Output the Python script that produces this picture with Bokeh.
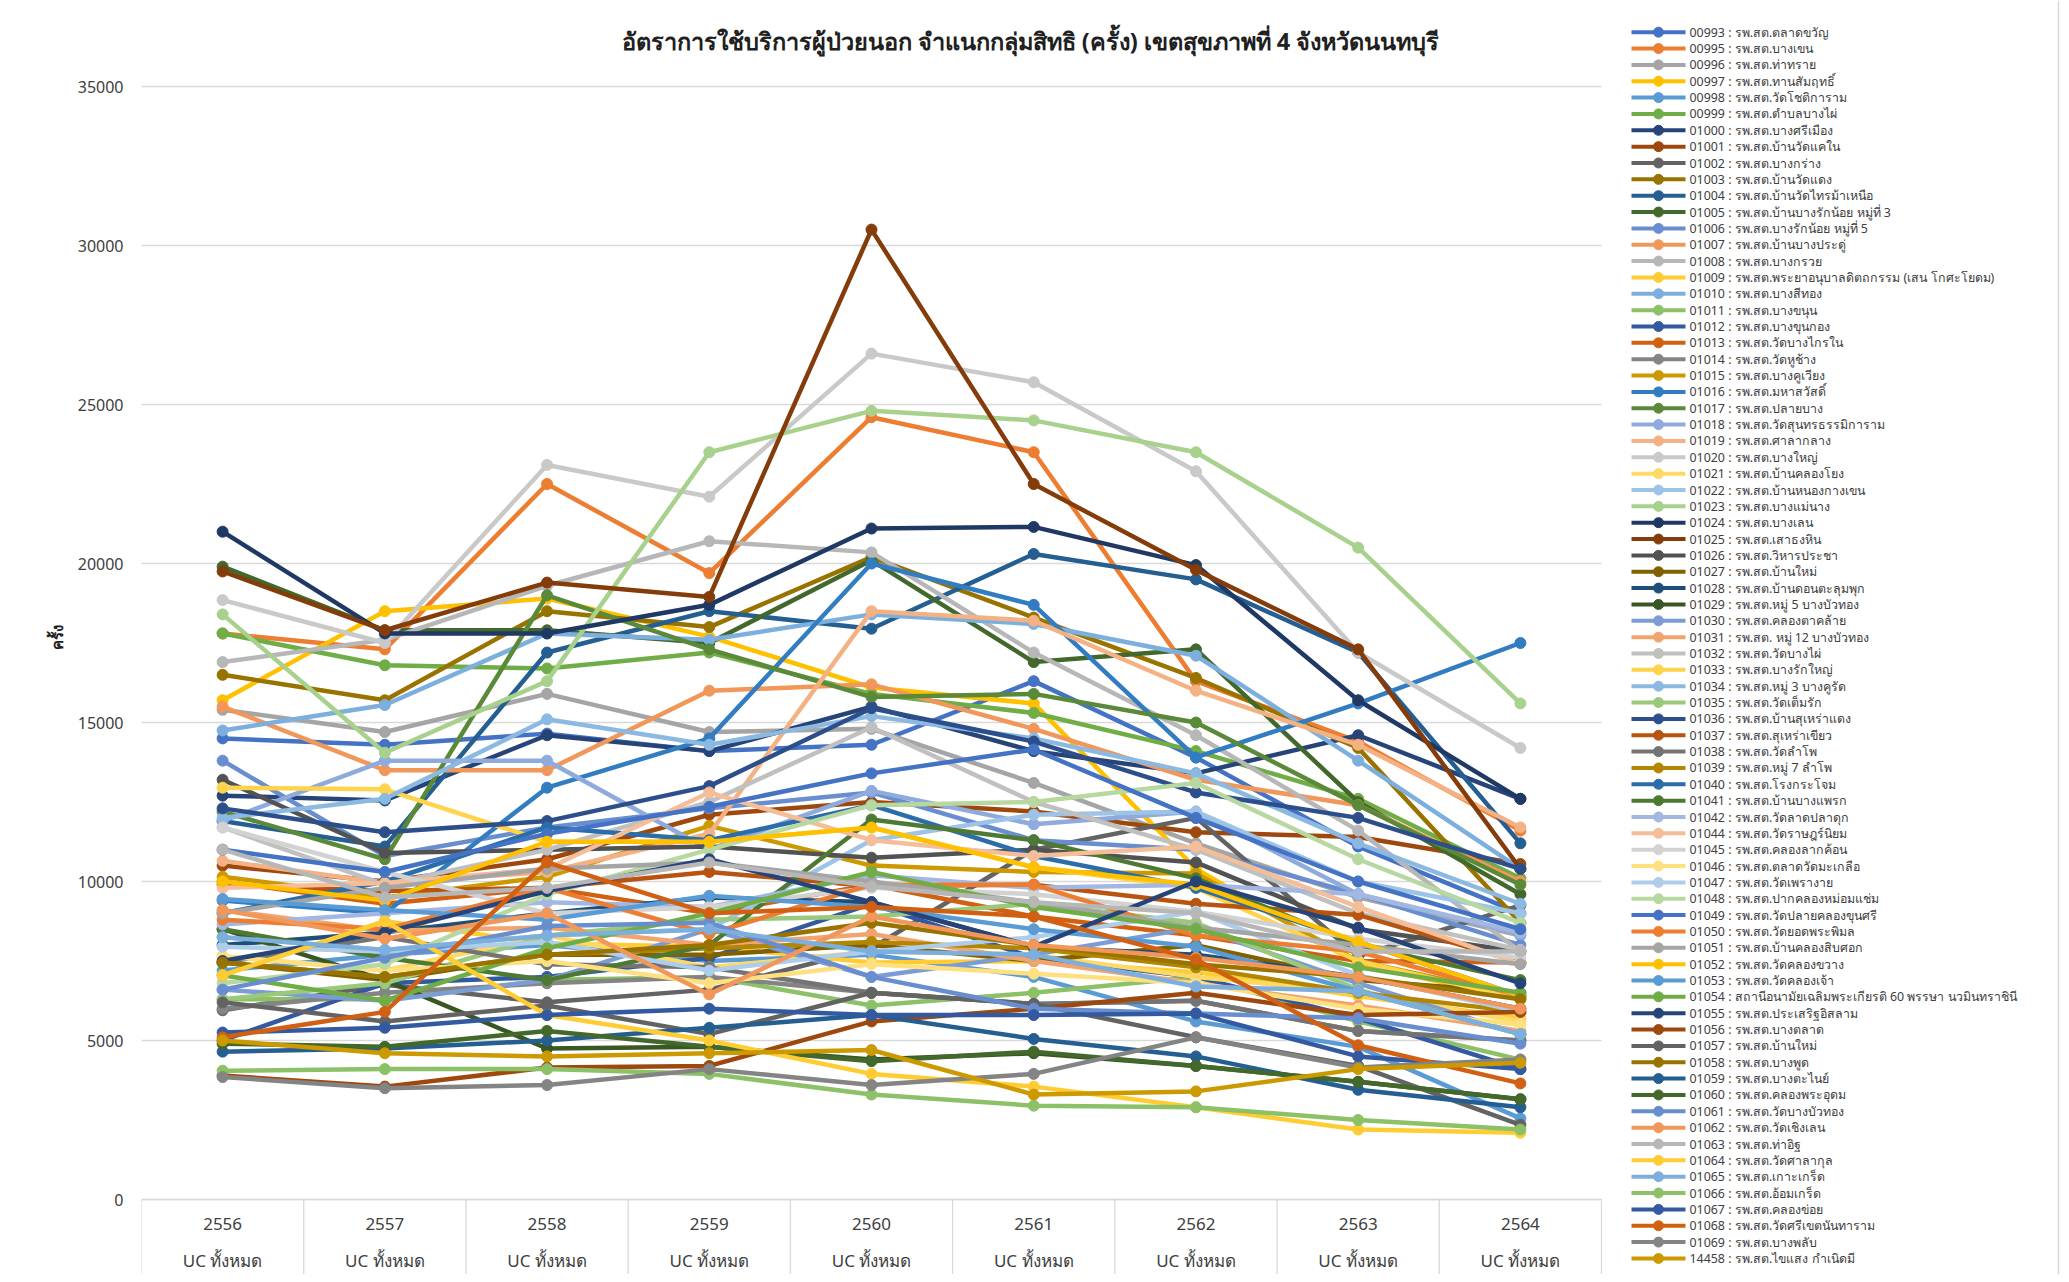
import colorsys
from bokeh.plotting import figure
from bokeh.models import Range1d, FixedTicker, NumeralTickFormatter, ColumnDataSource
from bokeh.core.properties import value
from bokeh.embed import file_html
from bokeh.resources import INLINE

# ---------------- data ----------------
years = ["2556", "2557", "2558", "2559", "2560", "2561", "2562", "2563", "2564"]
group_label = "UC ทั้งหมด"
title_text = "อัตราการใช้บริการผู้ป่วยนอก จำแนกกลุ่มสิทธิ (ครั้ง) เขตสุขภาพที่ 4 จังหวัดนนทบุรี"
y_label = "ครั้ง"
y_ticks = [0, 5000, 10000, 15000, 20000, 25000, 30000, 35000]

codes = ["00993", "00995", "00996", "00997", "00998", "00999", "01000", "01001", "01002", "01003",
         "01004", "01005", "01006", "01007", "01008", "01009", "01010", "01011", "01012", "01013",
         "01014", "01015", "01016", "01017", "01018", "01019", "01020", "01021", "01022", "01023",
         "01024", "01025", "01026", "01027", "01028", "01029", "01030", "01031", "01032", "01033",
         "01034", "01035", "01036", "01037", "01038", "01039", "01040", "01041", "01042", "01044",
         "01045", "01046", "01047", "01048", "01049", "01050", "01051", "01052", "01053", "01054",
         "01055", "01056", "01057", "01058", "01059", "01060", "01061", "01062", "01063", "01064",
         "01065", "01066", "01067", "01068", "01069", "14458"]

names = ["รพ.สต.ตลาดขวัญ", "รพ.สต.บางเขน", "รพ.สต.ท่าทราย", "รพ.สต.ทานสัมฤทธิ์", "รพ.สต.วัดโชติการาม",
         "รพ.สต.ตำบลบางไผ่", "รพ.สต.บางศรีเมือง", "รพ.สต.บ้านวัดแคใน", "รพ.สต.บางกร่าง", "รพ.สต.บ้านวัดแดง",
         "รพ.สต.บ้านวัดไทรม้าเหนือ", "รพ.สต.บ้านบางรักน้อย หมู่ที่ 3", "รพ.สต.บางรักน้อย หมู่ที่ 5",
         "รพ.สต.บ้านบางประดู่", "รพ.สต.บางกรวย", "รพ.สต.พระยาอนุบาลดิตถกรรม (เสน โกศะโยดม)",
         "รพ.สต.บางสีทอง", "รพ.สต.บางขนุน", "รพ.สต.บางขุนกอง", "รพ.สต.วัดบางไกรใน", "รพ.สต.วัดหูช้าง",
         "รพ.สต.บางคูเวียง", "รพ.สต.มหาสวัสดิ์", "รพ.สต.ปลายบาง", "รพ.สต.วัดสุนทรธรรมิการาม",
         "รพ.สต.ศาลากลาง", "รพ.สต.บางใหญ่", "รพ.สต.บ้านคลองโยง", "รพ.สต.บ้านหนองกางเขน", "รพ.สต.บางแม่นาง",
         "รพ.สต.บางเลน", "รพ.สต.เสาธงหิน", "รพ.สต.วิหารประชา", "รพ.สต.บ้านใหม่", "รพ.สต.บ้านดอนตะลุมพุก",
         "รพ.สต.หมู่ 5 บางบัวทอง", "รพ.สต.คลองตาคล้าย", "รพ.สต. หมู่ 12 บางบัวทอง", "รพ.สต.วัดบางไผ่",
         "รพ.สต.บางรักใหญ่", "รพ.สต.หมู่ 3 บางคูรัด", "รพ.สต.วัดเต็มรัก", "รพ.สต.บ้านสุเหร่าแดง",
         "รพ.สต.สุเหร่าเขียว", "รพ.สต.วัดลำโพ", "รพ.สต.หมู่ 7 ลำโพ", "รพ.สต.โรงกระโจม", "รพ.สต.บ้านบางแพรก",
         "รพ.สต.วัดลาดปลาดุก", "รพ.สต.วัดราษฎร์นิยม", "รพ.สต.คลองลากค้อน", "รพ.สต.ตลาดวัดมะเกลือ",
         "รพ.สต.วัดเพรางาย", "รพ.สต.ปากคลองหม่อมแช่ม", "รพ.สต.วัดปลายคลองขุนศรี", "รพ.สต.วัดยอดพระพิมล",
         "รพ.สต.บ้านคลองสิบศอก", "รพ.สต.วัดคลองขวาง", "รพ.สต.วัดคลองเจ้า",
         "สถานีอนามัยเฉลิมพระเกียรติ 60 พรรษา นวมินทราชินี", "รพ.สต.ประเสริฐอิสลาม", "รพ.สต.บางตลาด",
         "รพ.สต.บ้านใหม่", "รพ.สต.บางพูด", "รพ.สต.บางตะไนย์", "รพ.สต.คลองพระอุดม", "รพ.สต.วัดบางบัวทอง",
         "รพ.สต.วัดเชิงเลน", "รพ.สต.ท่าอิฐ", "รพ.สต.วัดศาลากุล", "รพ.สต.เกาะเกร็ด", "รพ.สต.อ้อมเกร็ด",
         "รพ.สต.คลองข่อย", "รพ.สต.วัดศรีเขตนันทาราม", "รพ.สต.บางพลับ", "รพ.สต.ไขแสง กำเนิดมี"]

v00993 = [14500, 14300, 14650, 14100, 14300, 16300, 13900, 11100, 9000]
v00995 = [17800, 17300, 22500, 19700, 24600, 23500, 16300, 14400, 11600]
v00996 = [15400, 14700, 15900, 14700, 14800, 13100, 11200, 9500, 8300]
v00997 = [15700, 18500, 18900, 17700, 16100, 15600, 10400, 7400, 6300]
v00998 = [7200, 7700, 8000, 7500, 7700, 7000, 5600, 4800, 2550]
v00999 = [17800, 16800, 16700, 17200, 15900, 15300, 14100, 12600, 10100]
v01000 = [12700, 12550, 14600, 14100, 15500, 14100, 13400, 14600, 12600]
v01001 = [10500, 10000, 10700, 12100, 12500, 12200, 11550, 11400, 10550]
v01002 = [5950, 6750, 6200, 6600, 7900, 11000, 12000, 7650, 9250]
v01003 = [16500, 15700, 18500, 18000, 20200, 18300, 16400, 14200, 8700]
v01004 = [11900, 11100, 17200, 18500, 17950, 20300, 19500, 17200, 11200]
v01005 = [19900, 17900, 17900, 17500, 20100, 16900, 17300, 12500, 9600]
v01006 = [13800, 10800, 11700, 12300, 12800, 11300, 11000, 9600, 8000]
v01007 = [15500, 13500, 13500, 16000, 16200, 14800, 13200, 12400, 10000]
v01008 = [16900, 17600, 19300, 20700, 20350, 17200, 14600, 11600, 7800]
v01009 = [7050, 8750, 8050, 7950, 7450, 7500, 7150, 6400, 5700]
v01010 = [14750, 15550, 17800, 17600, 18400, 18100, 17100, 13800, 10400]
v01011 = [6300, 6300, 6900, 7000, 6100, 6500, 7000, 5600, 4400]
v01012 = [5000, 6800, 7000, 7600, 9300, 7600, 7000, 5700, 4100]
v01013 = [10000, 9300, 9800, 9000, 9900, 8900, 8300, 7500, 7450]
v01014 = [6000, 6500, 6800, 7000, 6500, 6150, 6250, 5300, 5000]
v01015 = [10150, 9500, 10150, 11750, 10500, 10300, 10250, 7500, 6400]
v01016 = [9400, 9000, 12950, 14500, 20000, 18700, 13900, 15600, 17500]
v01017 = [12200, 10700, 19000, 17300, 15800, 15900, 15000, 12400, 9900]
v01018 = [11900, 13800, 13800, 11000, 12850, 11800, 12200, 9600, 8350]
v01019 = [10650, 9950, 10300, 11500, 18500, 18200, 16000, 14300, 11700]
v01020 = [18850, 17500, 23100, 22100, 26600, 25700, 22900, 17200, 14200]
v01021 = [7650, 7200, 8300, 7300, 7800, 7700, 7000, 6500, 5600]
v01022 = [8250, 7850, 8300, 8500, 11300, 12100, 12200, 10000, 9000]
v01023 = [18400, 14050, 16300, 23500, 24800, 24500, 23500, 20500, 15600]
v01024 = [21000, 17800, 17800, 18700, 21100, 21150, 19950, 15700, 12600]
v01025 = [19750, 17900, 19400, 18950, 30500, 22500, 19800, 17300, 10400]
v01026 = [13200, 10900, 11000, 11100, 10750, 11000, 10600, 8500, 7800]
v01027 = [7450, 6900, 7700, 7700, 8000, 7500, 8000, 6900, 6500]
v01028 = [8000, 8400, 9000, 9500, 9350, 7950, 7700, 7000, 6000]
v01029 = [8500, 6900, 4750, 4800, 4400, 4600, 4200, 3700, 3150]
v01030 = [6600, 6250, 6900, 8500, 7000, 7700, 8550, 6800, 5200]
v01031 = [9100, 8450, 8550, 8000, 8350, 7500, 6800, 6100, 5300]
v01032 = [11700, 9900, 11000, 12500, 14850, 12500, 11000, 9000, 7850]
v01033 = [12950, 12900, 11250, 11250, 11700, 10450, 9800, 7500, 6300]
v01034 = [12000, 12600, 15100, 14300, 15200, 14500, 13400, 11200, 9300]
v01035 = [6300, 6800, 8300, 8800, 8900, 9300, 8700, 6600, 5200]
v01036 = [12300, 11550, 11900, 13000, 15450, 14400, 12800, 12000, 10400]
v01037 = [9900, 9700, 9800, 10300, 9850, 9900, 9300, 8950, 7450]
v01038 = [7450, 8250, 7400, 7300, 6500, 6150, 6250, 5300, 5000]
v01039 = [7450, 7000, 7700, 7900, 8100, 7900, 7300, 6500, 5900]
v01040 = [9000, 10000, 11700, 11300, 12400, 10800, 9800, 8100, 6400]
v01041 = [8500, 7600, 6900, 8000, 11950, 11300, 10100, 8000, 6900]
v01042 = [8650, 9000, 9350, 9200, 10200, 9800, 9900, 9600, 8400]
v01044 = [9800, 9950, 10400, 12800, 11300, 10800, 11100, 9200, 7400]
v01045 = [11700, 10300, 9000, 9200, 9800, 9600, 9050, 8200, 7600]
v01046 = [7650, 7200, 7500, 6800, 7400, 7100, 6800, 6000, 5500]
v01047 = [7950, 7800, 8100, 7200, 7800, 8250, 9050, 7050, 5900]
v01048 = [6800, 7400, 9600, 11000, 12400, 12500, 13100, 10700, 8700]
v01049 = [11000, 10300, 11500, 12350, 13400, 14150, 12000, 10000, 8500]
v01050 = [8800, 8500, 9800, 8350, 9900, 9900, 8300, 7800, 6400]
v01051 = [9000, 9800, 10400, 10600, 10000, 9350, 8550, 8000, 7400]
v01052 = [10000, 9400, 11250, 11250, 11700, 10450, 9900, 8100, 6400]
v01053 = [9450, 9100, 8800, 9550, 9200, 8500, 7950, 6550, 5200]
v01054 = [7050, 6250, 7900, 9000, 10300, 9200, 8500, 7300, 6500]
v01055 = [7500, 8400, 9700, 10700, 9350, 7950, 10000, 8550, 6800]
v01056 = [3900, 3550, 4150, 4200, 5600, 6000, 6500, 5800, 5900]
v01057 = [6200, 5600, 6100, 5200, 6500, 6150, 5100, 4200, 2350]
v01058 = [7450, 7000, 7700, 8000, 8700, 8000, 7400, 7000, 6300]
v01059 = [4650, 4750, 5000, 5400, 5800, 5050, 4500, 3450, 2900]
v01060 = [4900, 4800, 5300, 4800, 4350, 4650, 4200, 3700, 3150]
v01061 = [6600, 7600, 8600, 8700, 7000, 6000, 5850, 5700, 4900]
v01062 = [9100, 8200, 9000, 6450, 8900, 8000, 7600, 7000, 6000]
v01063 = [11000, 9500, 9800, 10600, 9850, 9350, 9000, 7800, 7800]
v01064 = [7050, 8750, 5800, 5000, 3950, 3550, 2900, 2200, 2100]
v01065 = [8250, 7850, 8300, 8500, 7800, 7700, 6700, 6550, 5200]
v01066 = [4050, 4100, 4100, 3950, 3300, 2950, 2900, 2500, 2200]
v01067 = [5250, 5400, 5800, 6000, 5800, 5800, 5850, 4500, 4100]
v01068 = [5100, 5900, 10600, 9000, 9200, 8900, 7550, 4850, 3650]
v01069 = [3850, 3500, 3600, 4100, 3600, 3950, 5100, 4150, 4400]
v14458 = [5000, 4600, 4500, 4600, 4700, 3300, 3400, 4100, 4300]

series_values = [v00993, v00995, v00996, v00997, v00998, v00999, v01000, v01001, v01002, v01003,
                 v01004, v01005, v01006, v01007, v01008, v01009, v01010, v01011, v01012, v01013,
                 v01014, v01015, v01016, v01017, v01018, v01019, v01020, v01021, v01022, v01023,
                 v01024, v01025, v01026, v01027, v01028, v01029, v01030, v01031, v01032, v01033,
                 v01034, v01035, v01036, v01037, v01038, v01039, v01040, v01041, v01042, v01044,
                 v01045, v01046, v01047, v01048, v01049, v01050, v01051, v01052, v01053, v01054,
                 v01055, v01056, v01057, v01058, v01059, v01060, v01061, v01062, v01063, v01064,
                 v01065, v01066, v01067, v01068, v01069, v14458]

# ---------------- styles ----------------
base_colors = ["#4472C4", "#ED7D31", "#A5A5A5", "#FFC000", "#5B9BD5", "#70AD47"]
lum_mods = [(1, 0), (0.6, 0), (0.8, 0.2), (0.8, 0), (0.6, 0.4), (0.5, 0), (0.7, 0.3), (0.7, 0), (0.5, 0.5)]


def shade(hexc, mod, off):
    r, g, b = [int(hexc[i:i + 2], 16) / 255 for i in (1, 3, 5)]
    h, l, s = colorsys.rgb_to_hls(r, g, b)
    l = min(1.0, l * mod + off)
    r, g, b = colorsys.hls_to_rgb(h, l, s)
    return "#%02x%02x%02x" % tuple(int(round(c * 255)) for c in (r, g, b))


colors = [shade(base_colors[i % 6], *lum_mods[(i // 6) % 9]) for i in range(len(codes))]

FONT = "Noto Sans"
TXT = "#404040"
GRID = "#D9D9D9"
W, H = 2060, 1274
FL, FR, FT, FB = 141, 1601, 86, 1199     # value-area edges in page pixels
n_cat = len(years)
y_max = y_ticks[-1]

# the drawing frame covers the whole page right of the y axis; the value area
# (categories x 0..9, values 0..35000) maps onto FL..FR / FB..FT
ppx = (FR - FL) / n_cat
ppy = (FB - FT) / y_max
cat_pos = {y: k + 0.5 for k, y in enumerate(years)}
xs = [cat_pos[y] for y in years]
edges = [float(k) for k in range(n_cat + 1)]

p = figure(width=W, height=H, title=None,
           x_range=Range1d(0, (W - FL) / ppx),
           y_range=Range1d(-(H - FB) / ppy, y_max + FT / ppy),
           output_backend="svg", toolbar_location=None, x_axis_location=None,
           min_border_left=FL, min_border_right=0, min_border_top=0, min_border_bottom=0)
p.outline_line_color = None
p.xgrid.grid_line_color = None
p.ygrid.grid_line_color = None
# page-pixel ranges (y measured from the top) for title, category labels and legend
p.extra_x_ranges = {"px": Range1d(FL, W)}
p.extra_y_ranges = {"py": Range1d(H, 0)}

ya = p.yaxis[0]
ya.ticker = FixedTicker(ticks=y_ticks)
ya.formatter = NumeralTickFormatter(format="0")
ya.axis_line_color = None
ya.major_tick_line_color = None
ya.minor_tick_line_color = None
ya.major_label_standoff = 12
ya.major_label_text_font = FONT
ya.major_label_text_font_size = "16px"
ya.major_label_text_color = TXT
ya.axis_label = y_label
ya.axis_label_text_font = FONT
ya.axis_label_text_font_size = "15px"
ya.axis_label_text_font_style = "bold"
ya.axis_label_text_color = "#202020"
ya.axis_label_standoff = 8

# horizontal gridlines across the value area only, zero line, category separators
p.segment(x0=[0] * len(y_ticks), x1=[n_cat] * len(y_ticks), y0=y_ticks, y1=y_ticks,
          line_color=GRID, line_width=1.3)
p.segment(x0=[0], x1=[n_cat], y0=[0], y1=[0], line_color=GRID, line_width=1.6)
p.segment(x0=edges, x1=edges, y0=[FB] * len(edges), y1=[H] * len(edges),
          line_color=GRID, line_width=1.3, y_range_name="py")

# two-level category labels
p.text(x=xs, y=[1223] * n_cat, text=years, y_range_name="py", text_font=value(FONT),
       text_font_size=value("17px"), text_color=TXT, text_align="center", text_baseline="middle")
p.text(x=xs, y=[1260] * n_cat, text=[group_label] * n_cat, y_range_name="py", text_font=value(FONT),
       text_font_size=value("17px"), text_color=TXT, text_align="center", text_baseline="middle")

# data series
for vals, col in zip(series_values, colors):
    p.line(xs, vals, line_color=col, line_width=4.5)
    p.scatter(xs, vals, marker="circle", size=11, fill_color=col, line_color=col)

# title
p.text(x=[621], y=[40], text=[title_text], x_range_name="px", y_range_name="py",
       text_font=value(FONT), text_font_size=value("23.5px"), text_font_style="bold",
       text_color="#202020", text_align="left", text_baseline="middle")

# legend (76 rows at the right of the value area)
row0, row_step = 31.7, 16.35
n = len(codes)
leg_src = ColumnDataSource(dict(
    y=[row0 + k * row_step for k in range(n)],
    x0=[1631] * n, x1=[1685] * n, xm=[1658] * n, xt=[1689] * n,
    color=colors,
    label=[f"{c} : {nm}" for c, nm in zip(codes, names)],
))
p.segment(x0="x0", y0="y", x1="x1", y1="y", line_color="color", line_width=4, source=leg_src,
          x_range_name="px", y_range_name="py")
p.scatter(x="xm", y="y", marker="circle", size=10, fill_color="color", line_color="color",
          source=leg_src, x_range_name="px", y_range_name="py")
p.text(x="xt", y="y", text="label", source=leg_src, x_range_name="px", y_range_name="py",
       text_font=value(FONT), text_font_size=value("12.4px"), text_color=TXT,
       text_align="left", text_baseline="middle")
p.segment(x0=[2058], y0=[0], x1=[2058], y1=[H], line_color=GRID, line_width=1.5,
          x_range_name="px", y_range_name="py")

open("out.html", "w").write(file_html(p, INLINE))
